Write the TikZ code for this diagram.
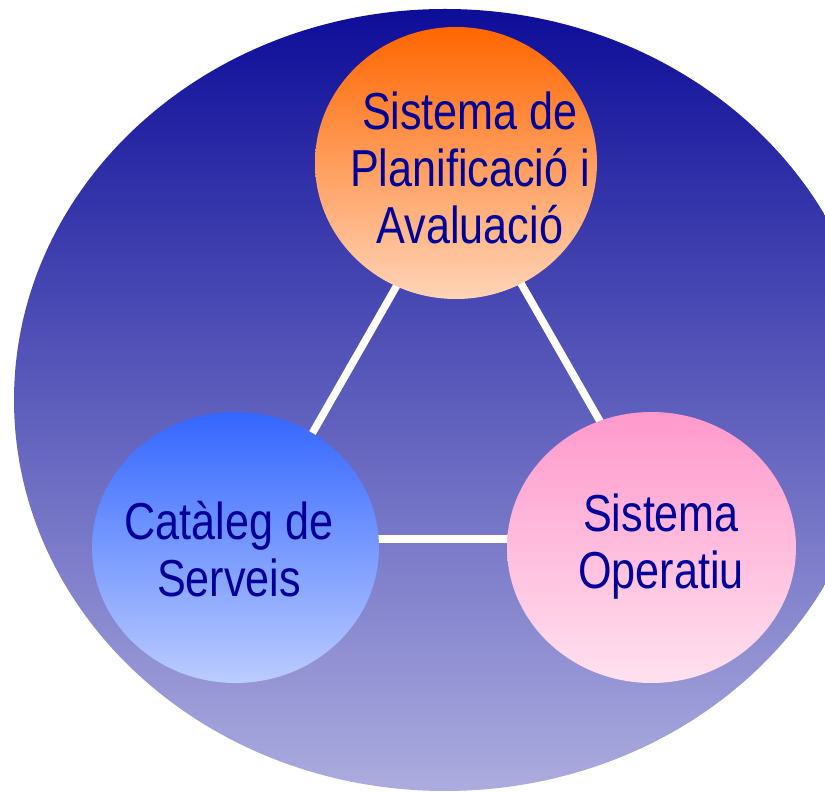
\documentclass[tikz,border=0pt]{standalone}
\usepackage{fontspec}
\setmainfont{Liberation Sans}
\usetikzlibrary{shapes.geometric}
\definecolor{navytext}{RGB}{0,0,153}
\definecolor{bigtop}{RGB}{13,13,153}
\definecolor{bigbot}{RGB}{172,172,223}
\definecolor{ortop}{RGB}{255,102,0}
\definecolor{orbot}{RGB}{255,212,184}
\definecolor{bltop}{RGB}{51,102,255}
\definecolor{blbot}{RGB}{188,204,255}
\definecolor{pktop}{RGB}{255,153,204}
\definecolor{pkbot}{RGB}{255,225,238}
\newcommand{\lbltext}[1]{\scalebox{0.83}[1]{\fontsize{52}{57}\selectfont\begin{tabular}[t]{@{}c@{}}#1\end{tabular}}}
\tikzset{
  bubble/.style={ellipse, inner sep=0pt, draw=none},
  link/.style={draw=white, line width=7.5pt},
  lbl/.style={anchor=base, inner sep=0pt, text=navytext}
}
\begin{document}
\begin{tikzpicture}[x=1pt,y=1pt]
\useasboundingbox (0,0) rectangle (825,792);
\begin{scope}
\clip (0,0) rectangle (825,792);
\shade[top color=bigtop, bottom color=bigbot] (445,392) ellipse [x radius=431pt, y radius=391pt];
\end{scope}
% connector end points
\coordinate (a1) at (404,519);
\coordinate (a2) at (309,353);
\coordinate (b1) at (515,519);
\coordinate (b2) at (609,355);
\coordinate (c1) at (370,253);
\coordinate (c2) at (518,253);
\draw[link] (a1) -- (a2);
\draw[link] (b1) -- (b2);
\draw[link] (c1) -- (c2);
% bubbles
\node[bubble, top color=ortop, bottom color=orbot, minimum width=282pt, minimum height=272pt] (plan) at (456,629) {};
\node[bubble, top color=bltop, bottom color=blbot, minimum width=287pt, minimum height=271pt] (cat) at (235.5,244.5) {};
\node[bubble, top color=pktop, bottom color=pkbot, minimum width=289pt, minimum height=271pt] (oper) at (651.5,244.5) {};
% labels
\node[lbl] (plantxt) at (470,662) {\lbltext{Sistema de\\Planificació i\\Avaluació}};
\node[lbl] (cattxt) at (229,252) {\lbltext{Catàleg de\\Serveis}};
\node[lbl] (opertxt) at (661,260) {\lbltext{Sistema\\Operatiu}};
\end{tikzpicture}
\end{document}
